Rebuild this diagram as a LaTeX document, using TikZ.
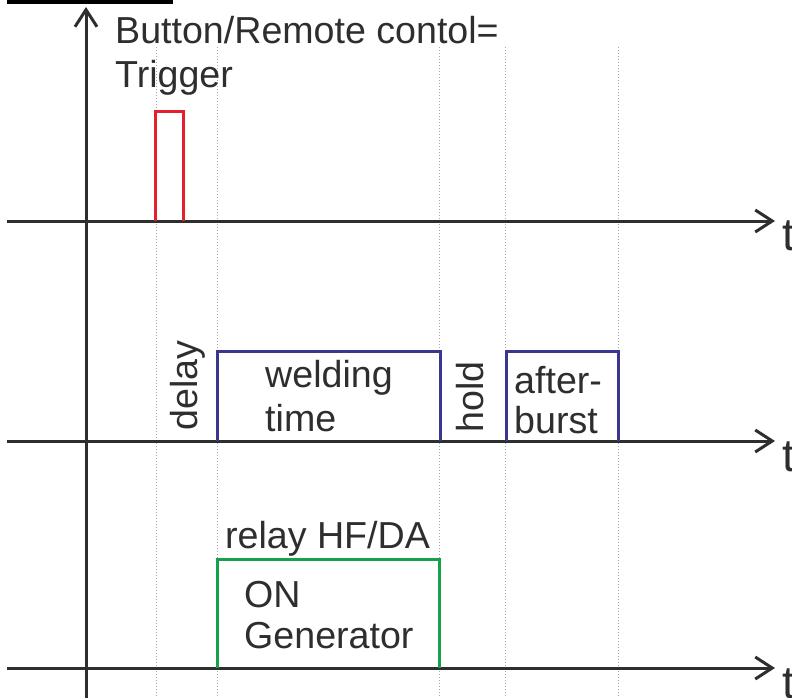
\documentclass[tikz,border=0pt]{standalone}
\usepackage{fontspec}
\setmainfont{Liberation Sans}
\usetikzlibrary{arrows.meta}
\definecolor{ink}{HTML}{2E2E2E}
\definecolor{trigred}{HTML}{E3202C}
\definecolor{weldblue}{HTML}{3A3790}
\definecolor{relgreen}{HTML}{17A04A}
\definecolor{gridgray}{HTML}{A8A8A8}
\tikzset{
  axis/.style={draw=ink, line width=3pt, -{Straight Barb[length=17pt,width=22pt,line width=3pt]}},
  guide/.style={draw=gridgray, line width=0.9pt, dash pattern=on 1.2pt off 1.8pt},
  pulse/.style={line width=3pt, line join=miter},
  lbl/.style={inner sep=0pt, text=ink, font=\fontsize{37.6}{45}\selectfont},
  tlbl/.style={inner sep=0pt, text=ink, font=\fontsize{46}{50}\selectfont, anchor=base west},
}
\begin{document}
\begin{tikzpicture}[x=1pt, y=-1pt]
\useasboundingbox (0,0) rectangle (792,698);
\clip (0,0) rectangle (792,698);

% caption underline at the top edge
\draw[draw=black, line width=3.5pt] (7,2) -- (173,2);

% vertical guide lines
\foreach \gx in {156,217,439,505,618}
  \draw[guide] (\gx,47) -- (\gx,698);

% time axes
\coordinate (y0) at (86,698);
\coordinate (y1) at (86,7);
\draw[axis] (y0) -- (y1);
\foreach \ay/\nm in {221/a, 441/b, 668/c}{
  \coordinate (\nm s) at (7,\ay);
  \coordinate (\nm e) at (775,\ay);
  \draw[axis] (\nm s) -- (\nm e);
}
\node[tlbl] (ta) at (782,250) {t};
\node[tlbl] (tb) at (782,471) {t};
\node[tlbl] (tc) at (782,698) {t};

% trigger pulse
\coordinate (r1) at (155,221);
\coordinate (r2) at (155,112);
\coordinate (r3) at (183,112);
\coordinate (r4) at (183,221);
\draw[pulse, trigred] (r1) -- (r2) -- (r3) -- (r4);

% welding time and afterburst pulses
\coordinate (w1) at (217,441);
\coordinate (w2) at (217,351);
\coordinate (w3) at (440,351);
\coordinate (w4) at (440,441);
\draw[pulse, weldblue] (w1) -- (w2) -- (w3) -- (w4);
\coordinate (b1) at (506,441);
\coordinate (b2) at (506,351);
\coordinate (b3) at (618,351);
\coordinate (b4) at (618,441);
\draw[pulse, weldblue] (b1) -- (b2) -- (b3) -- (b4);

% relay pulse
\coordinate (g1) at (217,668);
\coordinate (g2) at (217,559);
\coordinate (g3) at (439,559);
\coordinate (g4) at (439,668);
\draw[pulse, relgreen] (g1) -- (g2) -- (g3) -- (g4);

% labels
\node[lbl, anchor=base west] (btn) at (115,44) {Button/Remote contol=};
\node[lbl, anchor=base west] (trg) at (115,88) {Trigger};
\node[lbl, anchor=base west, rotate=90] (dly) at (197,431) {delay};
\node[lbl, anchor=base west] (wld) at (265,387) {welding};
\node[lbl, anchor=base west] (tim) at (265,431) {time};
\node[lbl, anchor=base west, rotate=90] (hld) at (483,433) {hold};
\node[lbl, anchor=base west] (aft) at (514,393) {after-};
\node[lbl, anchor=base west] (bst) at (514,433) {burst};
\node[lbl, anchor=base west] (rly) at (225,548) {relay HF/DA};
\node[lbl, anchor=base west] (on) at (244,607) {ON};
\node[lbl, anchor=base west] (gen) at (244,648) {Generator};
\end{tikzpicture}
\end{document}
